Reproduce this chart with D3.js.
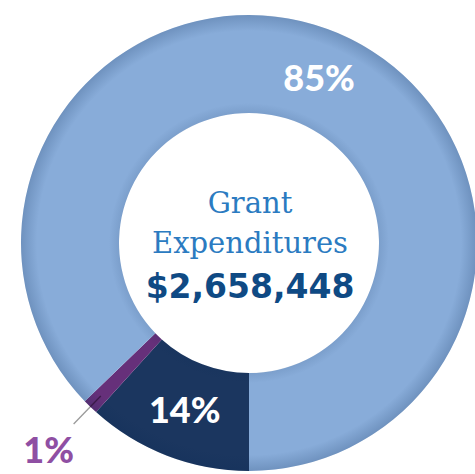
<!DOCTYPE html>
<html>
<head>
<meta charset="utf-8">
<script src="https://cdn.jsdelivr.net/npm/d3@7"></script>
<style>
  body { margin: 0; background: #fff; }
  svg { display: block; }
</style>
</head>
<body>
<div id="chart"></div>
<script>
const categories = ["Program grants", "Other grants", "Small grants"];
const shares = [11.7, 1.1, 87.2];
const labels = ["14%", "1%", "85%"];
const colors = ["#1b365f", "#66307a", "#88acd9"];

const title = ["Grant", "Expenditures"];
const total = "$2,658,448";

const width = 475, height = 474;
const cx = 249, cy = 243;
const innerR = 130, outerR = 228;

const data = categories.map((c, i) => ({ name: c, value: shares[i], label: labels[i], color: colors[i] }));

const svg = d3.select("#chart")
    .append("svg")
    .attr("width", width)
    .attr("height", height);

// gradient lives in the ring group's coordinates (origin at the centre)
const defs = svg.append("defs");
const shade = defs.append("radialGradient")
    .attr("id", "shade")
    .attr("gradientUnits", "userSpaceOnUse")
    .attr("cx", 0).attr("cy", 0).attr("r", outerR);
[[0, 0], [innerR / outerR, 0.1], [(innerR + 10) / outerR, 0], [0.93, 0], [1, 0.2]]
    .forEach(s => shade.append("stop").attr("offset", s[0]).attr("stop-color", "#0a2a55").attr("stop-opacity", s[1]));

const pie = d3.pie()
    .value(d => d.value)
    .sort(null)
    .startAngle(Math.PI)
    .endAngle(Math.PI * 3);

const arc = d3.arc().innerRadius(innerR).outerRadius(outerR);
const arcs = pie(data);

const g = svg.append("g").attr("transform", `translate(${cx},${cy})`);

g.selectAll("path.slice")
    .data(arcs)
    .enter()
    .append("path")
    .attr("class", "slice")
    .attr("d", arc)
    .attr("fill", d => d.data.color);

// soft bevel over the ring
g.append("path")
    .attr("d", d3.arc().innerRadius(innerR).outerRadius(outerR).startAngle(0).endAngle(2 * Math.PI)())
    .attr("fill", "url(#shade)");

// labels inside the ring
g.selectAll("text.pct")
    .data(arcs.filter(d => d.data.value > 5))
    .enter()
    .append("text")
    .attr("class", "pct")
    .attr("x", d => arc.centroid(d)[0])
    .attr("y", d => arc.centroid(d)[1])
    .attr("dy", "0.36em")
    .attr("text-anchor", "middle")
    .attr("fill", "#fff")
    .style("font-family", "Lato, sans-serif")
    .style("font-weight", 900)
    .style("font-size", "36px")
    .text(d => d.data.label);

// leader + label for the small slice
const small = arcs.filter(d => d.data.value <= 5);
const pt = (a, r) => [Math.sin(a) * r, -Math.cos(a) * r];
small.forEach(d => {
    const a = (d.startAngle + d.endAngle) / 2;
    const p0 = pt(a, 213), p1 = pt(a, outerR), p2 = pt(a, 252), pl = pt(a, 288);
    g.append("line")
        .attr("x1", p1[0]).attr("y1", p1[1]).attr("x2", p2[0]).attr("y2", p2[1])
        .attr("stroke", "#9a9a9a").attr("stroke-width", 1.3);
    g.append("line")
        .attr("x1", p0[0]).attr("y1", p0[1]).attr("x2", p1[0]).attr("y2", p1[1])
        .attr("stroke", "#3a1a48").attr("stroke-width", 1.3);
    g.append("text")
        .attr("x", pl[0]).attr("y", pl[1])
        .attr("dy", "0.36em")
        .attr("text-anchor", "middle")
        .attr("fill", "#8f4fa3")
        .style("font-family", "Lato, sans-serif")
        .style("font-weight", 900)
        .style("font-size", "36px")
        .text(d.data.label);
});

// centre text
g.selectAll("text.title")
    .data(title)
    .enter()
    .append("text")
    .attr("class", "title")
    .attr("x", 1)
    .attr("y", (d, i) => -30 + i * 40)
    .attr("text-anchor", "middle")
    .attr("fill", "#2b7bc1")
    .style("font-family", "'DejaVu Serif', serif")
    .style("font-size", "29px")
    .text(d => d);

g.append("text")
    .attr("x", 1)
    .attr("y", 55)
    .attr("text-anchor", "middle")
    .attr("fill", "#0f4a84")
    .style("font-family", "'DejaVu Sans', sans-serif")
    .style("font-weight", 700)
    .style("font-size", "33px")
    .text(total);
</script>
</body>
</html>
